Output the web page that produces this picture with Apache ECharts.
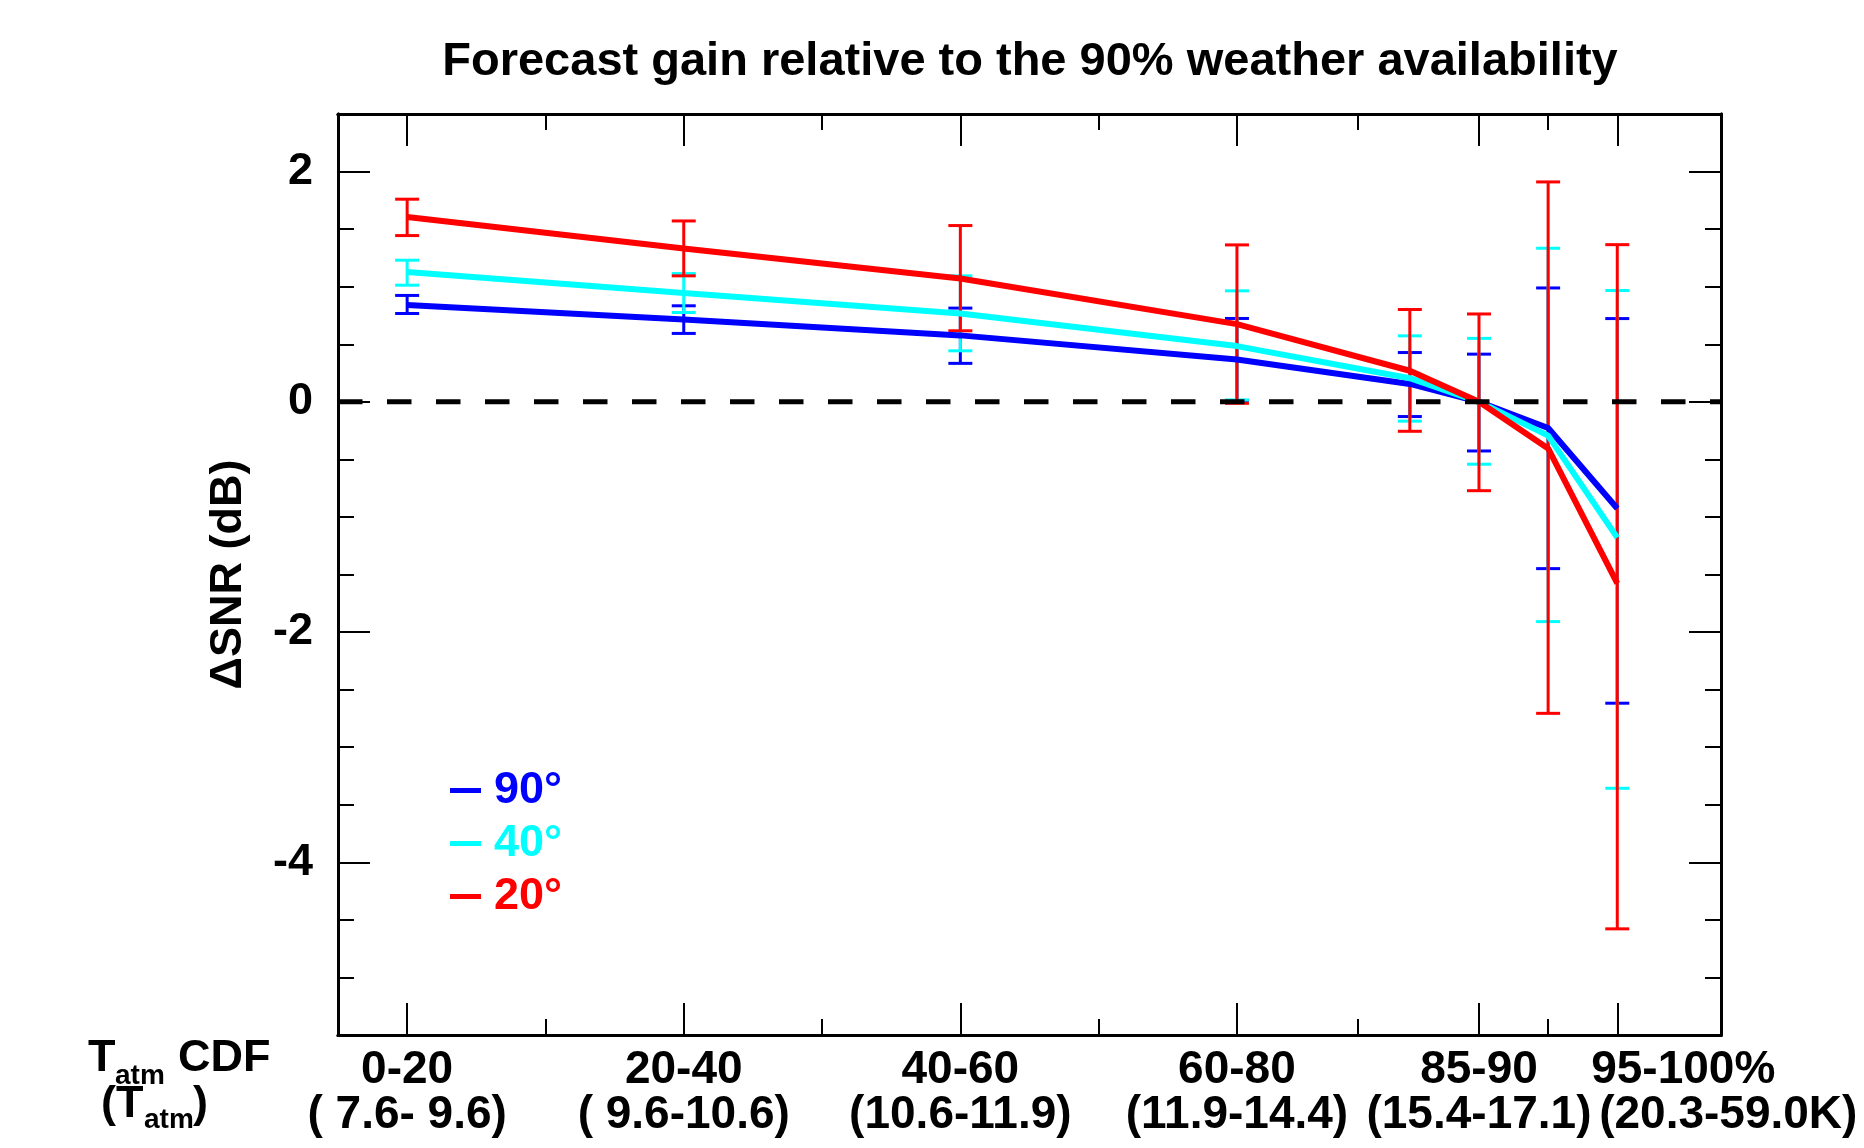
<!DOCTYPE html>
<html>
<head>
<meta charset="utf-8">
<script src="https://cdn.jsdelivr.net/npm/echarts@6/dist/echarts.min.js"></script>
<style>
html, body { margin: 0; padding: 0; background: #fff; }
#main { width: 1864px; height: 1148px; }
</style>
</head>
<body>
<div id="main"></div>
<script>
// CDF bin centres (percent)
var xPos = [10, 30, 50, 70, 82.5, 87.5, 92.5, 97.5];

// 90 deg elevation
var snr90 = [0.84, 0.715, 0.577, 0.368, 0.155, 0, -0.227, -0.927];
var low90 = [0.767, 0.594, 0.334, 0.012, -0.128, -0.427, -1.449, -2.618];
var high90 = [0.924, 0.834, 0.814, 0.724, 0.428, 0.414, 0.989, 0.723];

// 40 deg elevation
var snr40 = [1.128, 0.946, 0.767, 0.484, 0.205, 0, -0.294, -1.18];
var low40 = [1.013, 0.776, 0.443, 0.016, -0.168, -0.542, -1.909, -3.357];
var high40 = [1.23, 1.114, 1.094, 0.964, 0.573, 0.551, 1.334, 0.967];

// 20 deg elevation
var snr20 = [1.605, 1.331, 1.071, 0.675, 0.27, 0, -0.405, -1.578];
var low20 = [1.444, 1.094, 0.617, -0.013, -0.256, -0.772, -2.706, -4.578];
var high20 = [1.76, 1.571, 1.531, 1.363, 0.802, 0.763, 1.91, 1.365];

// axis ticks and labels
var xMajor = [10, 30, 50, 70, 87.5, 97.5];
var xMinor = [20, 40, 60, 78.75, 92.5];
var cdfLabels = ['0-20', '20-40', '40-60', '60-80', '85-90', '95-100%'];
var tempLabels = ['( 7.6- 9.6)', '( 9.6-10.6)', '(10.6-11.9)', '(11.9-14.4)', '(15.4-17.1)', '(20.3-59.0K)'];
var yMajor = [-4, -2, 0, 2];
var zeroLine = [[5, 0], [105, 0]];

var FONT = '"Liberation Sans", Arial, sans-serif';
var FS = 45;
var XFS = 46;
var chart = echarts.init(document.getElementById('main'));

function pairs(xs, ys) {
  return xs.map(function (x, i) { return [x, ys[i]]; });
}
function triples(xs, lo, hi) {
  return xs.map(function (x, i) { return [x, lo[i], hi[i]]; });
}
function errorBars(color) {
  return function (params, api) {
    var x = api.value(0);
    var lo = api.coord([x, api.value(1)]);
    var hi = api.coord([x, api.value(2)]);
    var w = 12;
    var st = { stroke: color, lineWidth: 3 };
    return {
      type: 'group',
      children: [
        { type: 'line', shape: { x1: lo[0], y1: lo[1], x2: hi[0], y2: hi[1] }, style: st },
        { type: 'line', shape: { x1: lo[0] - w, y1: lo[1], x2: lo[0] + w, y2: lo[1] }, style: st },
        { type: 'line', shape: { x1: hi[0] - w, y1: hi[1], x2: hi[0] + w, y2: hi[1] }, style: st }
      ]
    };
  };
}

function xLabel(v) {
  var i = xMajor.indexOf(v);
  if (i < 0) return '';
  // the last label hangs to the right of its tick, as in the original
  if (i === xMajor.length - 1) return '{e1|' + cdfLabels[i] + '}\n{e2|' + tempLabels[i] + '}';
  return cdfLabels[i] + '\n' + tempLabels[i];
}

function xAxisDef(grid, pos, ticks, len, labelVals) {
  return {
    type: 'value', gridIndex: grid, position: pos, min: 5, max: 105,
    axisLine: { show: true, onZero: false, lineStyle: { color: '#000', width: 3 } },
    axisTick: { show: true, inside: true, length: len, customValues: ticks, lineStyle: { color: '#000', width: 2 } },
    splitLine: { show: false },
    axisLabel: labelVals ? {
      show: true, customValues: labelVals, margin: 13, showMinLabel: true, showMaxLabel: true, hideOverlap: false,
      color: '#000', fontSize: XFS, fontWeight: 'bold', fontFamily: FONT, lineHeight: 45,
      formatter: xLabel,
      rich: {
        e1: { align: 'left', padding: [0, 0, 0, 214], color: '#000', fontSize: XFS, fontWeight: 'bold', fontFamily: FONT, lineHeight: 45 },
        e2: { align: 'left', padding: [0, 0, 0, 222], color: '#000', fontSize: XFS, fontWeight: 'bold', fontFamily: FONT, lineHeight: 45 }
      }
    } : { show: false }
  };
}
function yAxisDef(grid, pos, len, labels, minor) {
  var ax = {
    type: 'value', gridIndex: grid, position: pos, min: -5.5, max: 2.5,
    axisLine: { show: true, onZero: false, lineStyle: { color: '#000', width: 3 } },
    axisTick: { show: true, inside: true, length: len, lineStyle: { color: '#000', width: 2 } },
    splitLine: { show: false },
    axisLabel: labels ? {
      show: true, customValues: yMajor, margin: 25,
      color: '#000', fontSize: FS, fontWeight: 'bold', fontFamily: FONT
    } : { show: false }
  };
  if (minor) { ax.interval = 0.5; } else { ax.axisTick.customValues = yMajor; }
  if (labels) {
    ax.name = '\u0394SNR (dB)';
    ax.nameLocation = 'middle';
    ax.nameGap = 87;
    ax.nameTextStyle = { color: '#000', fontSize: FS, fontWeight: 'bold', fontFamily: FONT };
  }
  return ax;
}

var gridBox = { left: 338, top: 114, width: 1383, height: 921 };

var option = {
  backgroundColor: '#fff',
  animation: false,
  title: {
    text: 'Forecast gain relative to the 90% weather availability',
    left: 1025, top: 34, textAlign: 'center',
    textStyle: { color: '#000', fontSize: 47, fontWeight: 'bold', fontFamily: FONT }
  },
  legend: {
    orient: 'vertical', left: 445, top: 763, itemWidth: 31, itemHeight: 5, itemGap: 8,
    selectedMode: false,
    textStyle: { fontSize: FS, fontWeight: 'bold', fontFamily: FONT, lineHeight: 45, padding: [0, 0, 0, 8] },
    data: [
      { name: '90\u00b0', icon: 'rect', itemStyle: { color: '#0000ff' }, textStyle: { color: '#0000ff' } },
      { name: '40\u00b0', icon: 'rect', itemStyle: { color: '#00ffff' }, textStyle: { color: '#00ffff' } },
      { name: '20\u00b0', icon: 'rect', itemStyle: { color: '#ff0000' }, textStyle: { color: '#ff0000' } }
    ]
  },
  grid: [
    Object.assign({}, gridBox),
    Object.assign({}, gridBox)
  ],
  xAxis: [
    xAxisDef(0, 'bottom', xMajor, 32, xMajor.slice(0, 5)),
    xAxisDef(0, 'top', xMajor, 32, null),
    xAxisDef(1, 'bottom', xMinor, 16, xMajor.slice(5)),
    xAxisDef(1, 'top', xMinor, 16, null)
  ],
  yAxis: [
    yAxisDef(0, 'left', 32, true, false),
    yAxisDef(0, 'right', 32, false, false),
    yAxisDef(1, 'left', 16, false, true),
    yAxisDef(1, 'right', 16, false, true)
  ],
  graphic: [
    { type: 'text', left: 88, top: 1036, style: { text: 'T', font: 'bold 45px ' + FONT, fill: '#000' } },
    { type: 'text', left: 115, top: 1062, style: { text: 'atm', font: 'bold 28px ' + FONT, fill: '#000' } },
    { type: 'text', left: 178, top: 1036, style: { text: 'CDF', font: 'bold 45px ' + FONT, fill: '#000' } },
    { type: 'text', left: 101, top: 1082, style: { text: '(T', font: 'bold 45px ' + FONT, fill: '#000' } },
    { type: 'text', left: 144, top: 1106, style: { text: 'atm', font: 'bold 28px ' + FONT, fill: '#000' } },
    { type: 'text', left: 193, top: 1082, style: { text: ')', font: 'bold 45px ' + FONT, fill: '#000' } }
  ],
  series: [
    { name: '90\u00b0', type: 'custom', xAxisIndex: 0, yAxisIndex: 0, renderItem: errorBars('#0000ff'),
      encode: { x: 0, y: [1, 2] }, data: triples(xPos, low90, high90) },
    { name: '90\u00b0', type: 'line', xAxisIndex: 0, yAxisIndex: 0, showSymbol: false, symbol: 'none',
      color: '#0000ff', lineStyle: { color: '#0000ff', width: 6 }, data: pairs(xPos, snr90) },
    { name: '40\u00b0', type: 'custom', xAxisIndex: 0, yAxisIndex: 0, renderItem: errorBars('#00ffff'),
      encode: { x: 0, y: [1, 2] }, data: triples(xPos, low40, high40) },
    { name: '40\u00b0', type: 'line', xAxisIndex: 0, yAxisIndex: 0, showSymbol: false, symbol: 'none',
      color: '#00ffff', lineStyle: { color: '#00ffff', width: 6 }, data: pairs(xPos, snr40) },
    { name: '20\u00b0', type: 'custom', xAxisIndex: 0, yAxisIndex: 0, renderItem: errorBars('#ff0000'),
      encode: { x: 0, y: [1, 2] }, data: triples(xPos, low20, high20) },
    { name: '20\u00b0', type: 'line', xAxisIndex: 0, yAxisIndex: 0, showSymbol: false, symbol: 'none',
      color: '#ff0000', lineStyle: { color: '#ff0000', width: 6 }, data: pairs(xPos, snr20) },
    { name: 'zero', type: 'line', xAxisIndex: 0, yAxisIndex: 0, showSymbol: false, symbol: 'none', silent: true,
      lineStyle: { color: '#000', width: 5, type: [24.5, 24.5] }, data: zeroLine }
  ]
};

chart.setOption(option);
</script>
</body>
</html>
